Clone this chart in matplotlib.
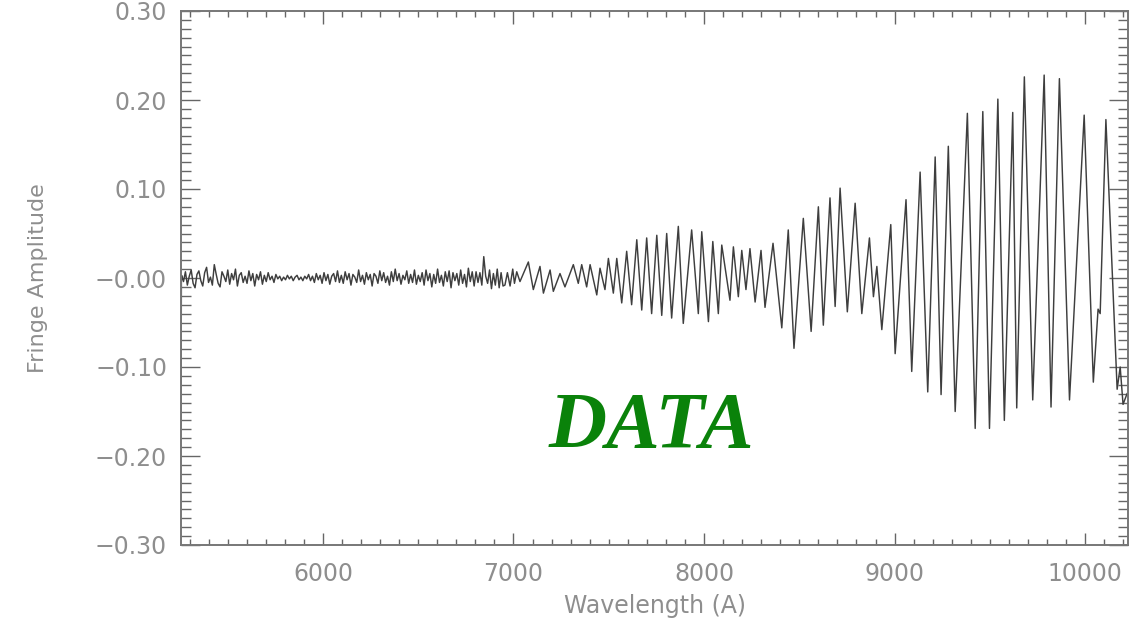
import numpy as np
import matplotlib
matplotlib.use("Agg")
import matplotlib.pyplot as plt
from matplotlib.ticker import MultipleLocator, FixedLocator, FixedFormatter

# ---------------- data ----------------
# left edge feature
edge_wl = [5255, 5257]
edge_amp = [-0.165, 0.000]

# low-amplitude noise segment (5258 - 6945 A)
noise_amp = [
    # 5258 - 5600
    0.003, -0.004, 0.007, -0.008, 0.002, 0.009, -0.006, -0.011, 0.004, 0.008,
    -0.003, -0.009, 0.006, 0.012, -0.005, 0.001, -0.008, 0.015, 0.004, -0.006,
    -0.010, 0.007, 0.002, -0.004, 0.009, -0.007, 0.005, -0.002, 0.010, -0.009,
    0.003, 0.006, -0.005, 0.002,
    # 5600 - 6100
    -0.006, 0.008, -0.003, 0.005, -0.009, 0.004, -0.002, 0.007, -0.007, 0.003,
    -0.004, 0.006, -0.002, 0.002, -0.005, 0.004, -0.001, 0.002, -0.003, 0.001,
    -0.002, 0.003, -0.001, 0.002, -0.003, 0.001, 0.003, -0.002, 0.001, -0.003,
    0.002, -0.001, 0.004, -0.003, 0.002, -0.005, 0.005, -0.002, 0.003, -0.006,
    0.006, -0.003, 0.004, -0.007, 0.002, 0.005, -0.004, 0.008, -0.005, 0.003,
    # 6100 - 6500
    -0.006, 0.007, -0.002, 0.005, -0.008, 0.004, 0.001, -0.005, 0.009, -0.004,
    0.003, -0.007, 0.006, -0.002, 0.004, -0.009, 0.005, 0.002, -0.006, 0.008,
    -0.003, 0.006, -0.005, 0.002, -0.008, 0.007, -0.004, 0.010, -0.003, 0.005,
    -0.007, 0.003, -0.002, 0.008, -0.006, 0.004, -0.005, 0.009, -0.007, 0.003,
    # 6500 - 6945
    -0.004, 0.006, -0.008, 0.009, -0.003, 0.005, -0.010, 0.004, -0.006, 0.010,
    -0.005, 0.003, -0.009, 0.007, -0.004, 0.008, -0.011, 0.006, -0.003, 0.005,
    -0.008, 0.009, -0.006, 0.004, -0.010, 0.011, -0.004, 0.007, -0.009, 0.007,
    -0.005, 0.006, -0.008, 0.024, 0.002, -0.006, 0.009, -0.012, 0.005, -0.008,
    0.010, -0.011, 0.006, -0.009,
]
noise_wl = np.linspace(5258, 6945, len(noise_amp))

# fringe extrema (wavelength in A, amplitude)
fringe_wl = [
    6955, 6968, 6982, 6996, 7005, 7017, 7034, 7078, 7104, 7139,
    7157, 7192, 7209, 7244, 7270, 7314, 7340, 7358, 7384, 7402,
    7437, 7454, 7480, 7498, 7524, 7542, 7568, 7594, 7620, 7647,
    7673, 7699, 7725, 7752, 7778, 7804, 7830, 7865, 7891, 7935,
    7970, 7988, 8023, 8046, 8075, 8093, 8136, 8154, 8180, 8198,
    8220, 8241, 8268, 8299, 8320, 8362, 8408, 8442, 8472, 8521,
    8562, 8600, 8626, 8661, 8688, 8714, 8752, 8793, 8828, 8868,
    8889, 8907, 8933, 8980, 9003, 9060, 9090, 9134, 9174, 9213,
    9244, 9282, 9318, 9382, 9423, 9463, 9498, 9542, 9576, 9620,
    9641, 9681, 9725, 9785, 9821, 9865, 9918, 9995, 10043, 10068,
    10079, 10109, 10168, 10184, 10199, 10220,
]
fringe_amp = [
    -0.008, 0.006, -0.009, 0.010, -0.006, 0.007, -0.004, 0.018, -0.013, 0.013,
    -0.017, 0.009, -0.015, 0.005, -0.010, 0.015, -0.006, 0.015, -0.010, 0.015,
    -0.019, 0.011, -0.013, 0.022, -0.017, 0.022, -0.028, 0.030, -0.030, 0.043,
    -0.036, 0.045, -0.040, 0.048, -0.042, 0.050, -0.045, 0.058, -0.051, 0.054,
    -0.040, 0.052, -0.049, 0.041, -0.040, 0.037, -0.025, 0.035, -0.021, 0.031,
    -0.013, 0.033, -0.027, 0.031, -0.033, 0.039, -0.056, 0.054, -0.079, 0.067,
    -0.060, 0.080, -0.053, 0.090, -0.032, 0.101, -0.038, 0.084, -0.040, 0.045,
    -0.021, 0.013, -0.058, 0.060, -0.085, 0.088, -0.105, 0.119, -0.128, 0.136,
    -0.131, 0.148, -0.150, 0.185, -0.169, 0.187, -0.169, 0.201, -0.160, 0.186,
    -0.146, 0.226, -0.137, 0.228, -0.145, 0.224, -0.137, 0.183, -0.117, -0.035,
    -0.040, 0.178, -0.125, -0.100, -0.142, -0.130,
]

x_ticks = [6000, 7000, 8000, 9000, 10000]
x_tick_labels = ["6000", "7000", "8000", "9000", "10000"]
y_ticks = [-0.30, -0.20, -0.10, 0.00, 0.10, 0.20, 0.30]
y_tick_labels = ["\u22120.30", "\u22120.20", "\u22120.10", "\u22120.00", "0.10", "0.20", "0.30"]

# ---------------- figure ----------------
wl = np.concatenate([edge_wl, noise_wl, fringe_wl])
amp = np.concatenate([edge_amp, noise_amp, fringe_amp])

fig = plt.figure(figsize=(11.34, 6.23), dpi=100)
ax = fig.add_axes([181 / 1134, 1 - 545 / 623, (1128 - 181) / 1134, (545 - 11) / 623])

ax.plot(wl, amp, color="#3e3e3e", lw=1.05)

ax.set_xlim(5255, 10225)
ax.set_ylim(-0.30, 0.30)

txt_col = "#8e8e8e"
ax.xaxis.set_major_locator(FixedLocator(x_ticks))
ax.xaxis.set_major_formatter(FixedFormatter(x_tick_labels))
ax.xaxis.set_minor_locator(MultipleLocator(100))
ax.yaxis.set_major_locator(FixedLocator(y_ticks))
ax.yaxis.set_major_formatter(FixedFormatter(y_tick_labels))
ax.yaxis.set_minor_locator(MultipleLocator(0.01))

ax.tick_params(axis="both", which="both", direction="in", top=True, right=True,
               color="#666666", labelcolor=txt_col)
ax.tick_params(axis="y", which="major", length=14, width=1.0, labelsize=17, pad=10)
ax.tick_params(axis="y", which="minor", length=7, width=1.0)
ax.tick_params(axis="x", which="major", length=9, width=1.0, labelsize=17, pad=12)
ax.tick_params(axis="x", which="minor", length=4.5, width=1.0)

for s in ax.spines.values():
    s.set_color("#777777")
    s.set_linewidth(1.4)

ax.set_xlabel("Wavelength (A)", fontsize=17, color=txt_col, labelpad=6)
ax.set_ylabel("Fringe Amplitude", fontsize=16, color=txt_col, labelpad=34)

fig.text(651 / 1134, 1 - 428 / 623, "DATA", color="#0a820a", fontsize=58,
         fontweight="bold", fontstyle="italic", family="Liberation Serif",
         ha="center", va="center")

fig.savefig("out.png", dpi=100)
